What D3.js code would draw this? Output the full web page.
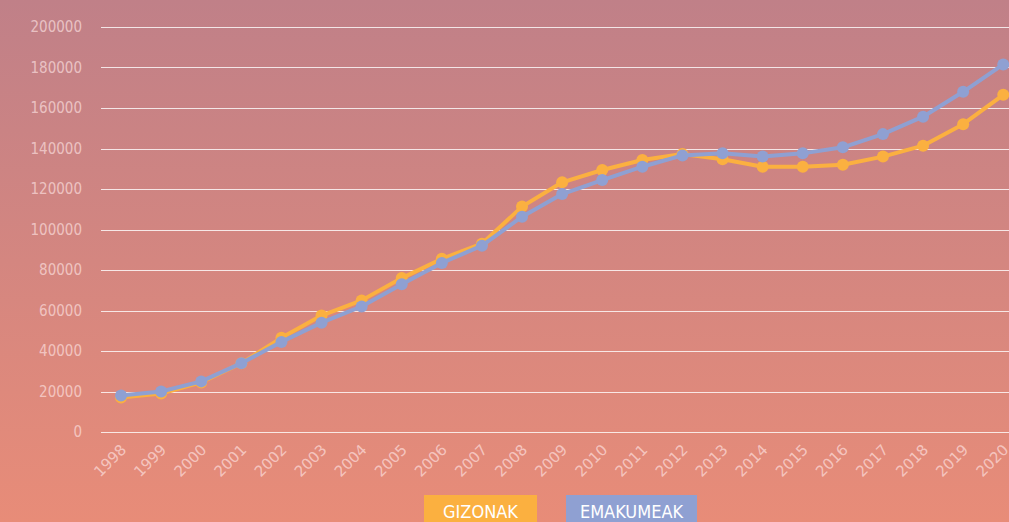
<!DOCTYPE html>
<html>
<head>
<meta charset="utf-8">
<script src="https://cdn.jsdelivr.net/npm/d3@7"></script>
<style>
  html, body { margin: 0; padding: 0; overflow: hidden; }
  body { width: 1009px; height: 522px; }
  .lbl { font-family: "DejaVu Sans Condensed", "DejaVu Sans", sans-serif; }
  .xl { font-family: "DejaVu Sans", sans-serif; }
</style>
</head>
<body>
<div id="chart"></div>
<script>
// years on the x axis
const years = ["1998","1999","2000","2001","2002","2003","2004","2005","2006","2007","2008",
    "2009","2010","2011","2012","2013","2014","2015","2016","2017","2018","2019","2020"];

// GIZONAK (men)
const gizonak = [17000, 19000, 24500, 34000, 46500, 57500, 65000, 76000, 85500, 93000, 111300,
    123300, 129400, 134300, 137300, 134700, 131000, 131000, 132000, 136000, 141400, 152000, 166500];

// EMAKUMEAK (women)
const emakumeak = [18000, 20000, 25000, 34000, 44500, 54000, 62000, 73000, 83500, 92000, 106300,
    117500, 124400, 131000, 136600, 137600, 136000, 137600, 140600, 147100, 155700, 168000, 181500];

const yTicks = [0, 20000, 40000, 60000, 80000, 100000, 120000, 140000, 160000, 180000, 200000];

const series = [
    { name: "GIZONAK", values: gizonak, color: "#fbb040" },
    { name: "EMAKUMEAK", values: emakumeak, color: "#8fa0d2" }
];

function drawChart() {
    const width = 1009;
    const height = 522;
    const margin = { top: 27, left: 101, bottom: 90 };

    const svg = d3.select("#chart").append("svg")
        .attr("width", width)
        .attr("height", height);

    // background gradient
    const grad = svg.append("defs").append("linearGradient")
        .attr("id", "bg")
        .attr("x1", 0).attr("y1", 0).attr("x2", 0).attr("y2", 1);
    grad.append("stop").attr("offset", "0%").attr("stop-color", "#c08088");
    grad.append("stop").attr("offset", "100%").attr("stop-color", "#e88c78");
    svg.append("rect")
        .attr("width", width).attr("height", height)
        .attr("fill", "url(#bg)");

    const xScale = d3.scalePoint()
        .domain(years)
        .range([margin.left, margin.left + 23 * 40.1])
        .padding(0.5);

    const yScale = d3.scaleLinear()
        .domain([0, 200000])
        .range([432, margin.top]);

    // gridlines
    svg.append("g")
        .selectAll("line")
        .data(yTicks)
        .enter()
        .append("line")
        .attr("x1", margin.left)
        .attr("x2", width)
        .attr("y1", d => Math.round(yScale(d)) + 0.5)
        .attr("y2", d => Math.round(yScale(d)) + 0.5)
        .attr("stroke", "rgba(255,255,255,0.8)")
        .attr("stroke-width", 1.2);

    // y axis labels
    const yAxis = d3.axisLeft(yScale).tickValues(yTicks).tickSize(0).tickPadding(0).tickFormat(d3.format("d"));
    const gy = svg.append("g")
        .attr("transform", "translate(82,0)")
        .call(yAxis);
    gy.select(".domain").remove();
    gy.selectAll("text")
        .attr("class", "lbl")
        .attr("font-size", 15)
        .attr("fill", "rgba(255,230,230,0.65)");

    // x axis labels, rotated
    const xAxis = d3.axisBottom(xScale).tickSize(0).tickPadding(0);
    const gx = svg.append("g")
        .attr("transform", "translate(2,447)")
        .call(xAxis);
    gx.select(".domain").remove();
    gx.selectAll("text")
        .attr("class", "xl")
        .attr("font-size", 15)
        .attr("fill", "rgba(255,230,230,0.65)")
        .attr("text-anchor", "end")
        .attr("dy", "0.35em")
        .attr("transform", "rotate(-45)");

    // lines and points
    const line = d3.line()
        .x((d, i) => xScale(years[i]))
        .y(d => yScale(d));

    series.forEach(s => {
        const g = svg.append("g");
        g.append("path")
            .datum(s.values)
            .attr("fill", "none")
            .attr("stroke", s.color)
            .attr("stroke-width", 4)
            .attr("stroke-linejoin", "round")
            .attr("d", line);
        g.selectAll("circle")
            .data(s.values)
            .enter()
            .append("circle")
            .attr("cx", (d, i) => xScale(years[i]))
            .attr("cy", d => yScale(d))
            .attr("r", 6)
            .attr("fill", s.color);
    });

    // legend
    const legendBoxes = [
        { x: 424, w: 113 },
        { x: 566, w: 131 }
    ];
    series.forEach((s, i) => {
        const b = legendBoxes[i];
        svg.append("rect")
            .attr("x", b.x).attr("y", 495)
            .attr("width", b.w).attr("height", 32)
            .attr("fill", s.color);
        svg.append("text")
            .attr("class", "lbl")
            .attr("x", b.x + b.w / 2)
            .attr("y", 518)
            .attr("text-anchor", "middle")
            .attr("font-size", 18)
            .attr("fill", "#ffffff")
            .text(s.name);
    });
}

drawChart();
</script>
</body>
</html>
